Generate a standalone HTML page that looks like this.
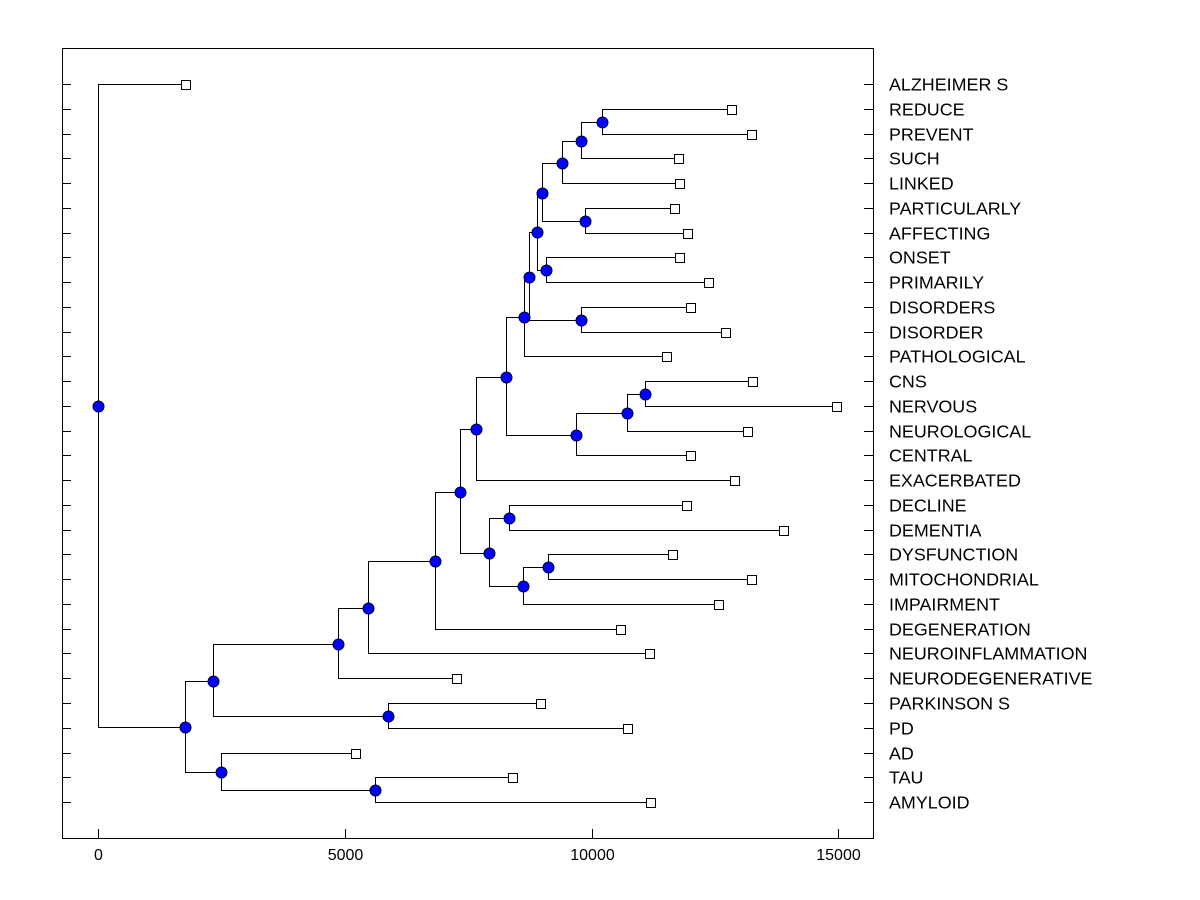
<!DOCTYPE html>
<html><head><meta charset="utf-8"><style>
body{margin:0;background:#fff}
svg{display:block;font-family:"Liberation Sans",Arial,sans-serif}
</style></head><body>
<svg id="chart" width="1200" height="900">
<rect x="62.5" y="48.5" width="811" height="790" fill="none" stroke="#000" stroke-width="1"/>
<g id="g"></g>
</svg>
<script>
const labels=["ALZHEIMER S","REDUCE","PREVENT","SUCH","LINKED","PARTICULARLY","AFFECTING","ONSET","PRIMARILY","DISORDERS","DISORDER","PATHOLOGICAL","CNS","NERVOUS","NEUROLOGICAL","CENTRAL","EXACERBATED","DECLINE","DEMENTIA","DYSFUNCTION","MITOCHONDRIAL","IMPAIRMENT","DEGENERATION","NEUROINFLAMMATION","NEURODEGENERATIVE","PARKINSON S","PD","AD","TAU","AMYLOID"];
const leafValues=[1764,12832,13237,11757,11778,11676,11940,11778,12365,12001,12710,11514,13258,14960,13156,12001,12893,11920,13886,11636,13237,12568,10582,11170,7257,8960,10724,5210,8393,11190];
const nodeNames=["AA","Z","Y","X","W","V","U","DD","T","P","S","R","Q","O","J","L","N","M","K","I","H","G","E","F","B","D","C","A","root"];
const nodeHeights=[10217,9791,9406,9872,9001,9082,8899,9791,8737,8636,11089,10724,9690,8271,7663,8332,9122,8615,7926,7338,6831,5473,4865,5879,2331,5615,2493,1764,0];
const nodeChildren=[[1,2],["AA",3],["Z",4],[5,6],["Y","X"],[7,8],["W","V"],[9,10],["U","DD"],["T",11],[12,13],["S",14],["R",15],["P","Q"],["O",16],[17,18],[19,20],["N",21],["L","M"],["J","K"],["I",22],["H",23],["G",24],[25,26],["E","F"],[28,29],[27,"D"],["B","C"],[0,"A"]];
const xTicks=[0,5000,10000,15000];
const X=v=>Math.round(98+v*0.04936)+0.5;
const Y=i=>Math.round(84+i*24.76)+0.5;
const g=document.getElementById('g');
const NS="http://www.w3.org/2000/svg";
function mk(t,a){const e=document.createElementNS(NS,t);for(const k in a)e.setAttribute(k,a[k]);g.appendChild(e);return e;}
const pos={};
labels.forEach((l,i)=>{pos[i]={x:X(leafValues[i]),y:Y(i)};});
nodeNames.forEach((n,k)=>{const [a,b]=nodeChildren[k];pos[n]={x:X(nodeHeights[k]),y:Math.round((pos[a].y+pos[b].y)/2)+0.5};});
nodeNames.forEach((n,k)=>{const p=pos[n];const cs=nodeChildren[k].map(c=>pos[c]);
 const e=mk('path',{d:`M${cs[0].x} ${cs[0].y}H${p.x}V${cs[1].y}H${cs[1].x}`,fill:'none',stroke:'#000','stroke-width':1});
 
 
});
labels.forEach((l,i)=>{const y=Y(i);
 const t1=mk('line',{x1:62,x2:71,y1:y,y2:y,stroke:'#000'});
 
 
 const t2=mk('line',{x1:864,x2:873,y1:y,y2:y,stroke:'#000'});
 
 
 const r=mk('rect',{x:pos[i].x-4,y:y-4,width:9,height:9,fill:'#fff',stroke:'#000'});
 
 
 const tx=mk('text',{x:889,y:y+6,'font-size':17.9,fill:'#000'});tx.textContent=l;
 
 
});
nodeNames.forEach(n=>{const p=pos[n];
 const c=mk('circle',{cx:p.x,cy:p.y,r:5.5,fill:'#0000ff',stroke:'#000033','stroke-width':1});
 
 
});
xTicks.forEach(v=>{const x=X(v);
 const l=mk('line',{x1:x,x2:x,y1:829,y2:838,stroke:'#000'});
 
 
 const t=mk('text',{x:x,y:860,'font-size':16,'text-anchor':'middle',fill:'#000'});t.textContent=v;
 
 
});
</script>
</body></html>
